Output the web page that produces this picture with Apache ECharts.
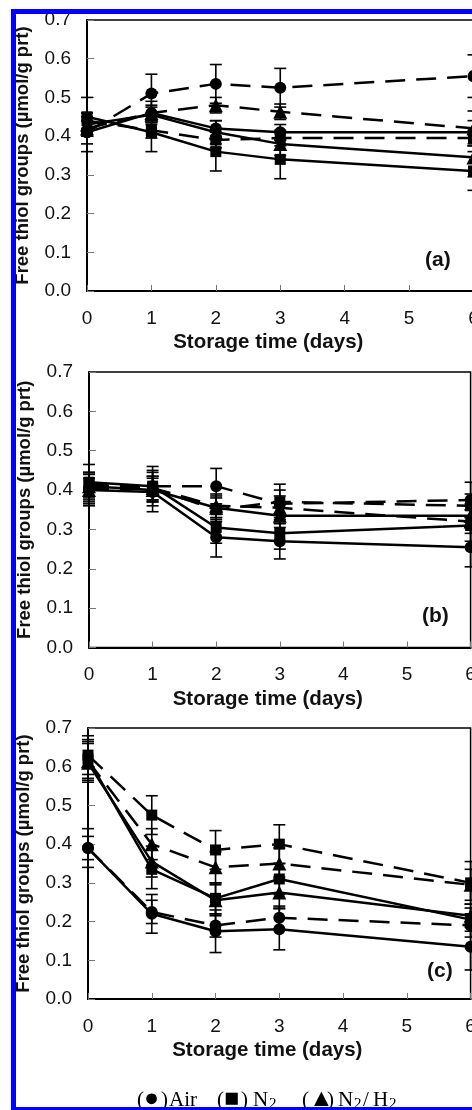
<!DOCTYPE html>
<html>
<head>
<meta charset="utf-8">
<script src="https://cdn.jsdelivr.net/npm/echarts@6/dist/echarts.min.js"></script>
<style>
  html, body { margin: 0; padding: 0; background: #fff; }
  #chart { width: 472px; height: 1110px; }
</style>
</head>
<body>
<div id="chart"></div>
<script>
// Storage days at which free thiol groups were measured
const days = [0, 1, 2, 3, 6];
const xTickLabels = ['0', '1', '2', '3', '4', '5', '6'];
const yTickLabels = ['0.0', '0.1', '0.2', '0.3', '0.4', '0.5', '0.6', '0.7'];

// Panel (a): means and error half-widths (µmol/g protein)
const a_air_solid   = [0.41, 0.46, 0.42, 0.41, 0.41];
const a_air_solid_e = [0.03, 0.03, 0.02, 0.02, 0.03];
const a_air_dash    = [0.41, 0.51, 0.535, 0.525, 0.555];
const a_air_dash_e  = [0.05, 0.05, 0.05, 0.05, 0.055];
const a_n2_solid    = [0.45, 0.41, 0.36, 0.34, 0.31];
const a_n2_solid_e  = [0.05, 0.05, 0.05, 0.05, 0.05];
const a_n2_dash     = [0.44, 0.415, 0.39, 0.395, 0.395];
const a_n2_dash_e   = [0.02, 0.02, 0.02, 0.02, 0.02];
const a_nh_solid    = [0.43, 0.455, 0.41, 0.38, 0.345];
const a_nh_solid_e  = [0.02, 0.02, 0.03, 0.03, 0.05];
const a_nh_dash     = [0.42, 0.46, 0.48, 0.463, 0.42];
const a_nh_dash_e   = [0.02, 0.02, 0.02, 0.02, 0.045];

// Panel (b)
const b_air_solid   = [0.40, 0.395, 0.28, 0.27, 0.255];
const b_air_solid_e = [0.04, 0.05, 0.05, 0.045, 0.05];
const b_air_dash    = [0.405, 0.41, 0.41, 0.365, 0.375];
const b_air_dash_e  = [0.04, 0.05, 0.045, 0.05, 0.045];
const b_n2_solid    = [0.42, 0.41, 0.305, 0.29, 0.31];
const b_n2_solid_e  = [0.045, 0.04, 0.04, 0.04, 0.04];
const b_n2_dash     = [0.415, 0.405, 0.35, 0.37, 0.36];
const b_n2_dash_e   = [0.03, 0.03, 0.03, 0.03, 0.03];
const b_nh_solid    = [0.41, 0.40, 0.355, 0.335, 0.335];
const b_nh_solid_e  = [0.03, 0.03, 0.03, 0.03, 0.03];
const b_nh_dash     = [0.40, 0.405, 0.36, 0.355, 0.32];
const b_nh_dash_e   = [0.03, 0.03, 0.03, 0.03, 0.03];

// Panel (c)
const c_air_solid   = [0.39, 0.22, 0.175, 0.18, 0.135];
const c_air_solid_e = [0.05, 0.05, 0.055, 0.053, 0.06];
const c_air_dash    = [0.39, 0.225, 0.19, 0.21, 0.19];
const c_air_dash_e  = [0.03, 0.03, 0.03, 0.03, 0.03];
const c_n2_solid    = [0.62, 0.335, 0.26, 0.31, 0.205];
const c_n2_solid_e  = [0.05, 0.05, 0.04, 0.04, 0.03];
const c_n2_dash     = [0.63, 0.475, 0.385, 0.40, 0.30];
const c_n2_dash_e   = [0.05, 0.05, 0.05, 0.05, 0.055];
const c_nh_solid    = [0.61, 0.355, 0.255, 0.275, 0.215];
const c_nh_solid_e  = [0.05, 0.04, 0.04, 0.04, 0.03];
const c_nh_dash     = [0.615, 0.40, 0.34, 0.35, 0.295];
const c_nh_dash_e   = [0.05, 0.04, 0.04, 0.04, 0.04];

const panelLabels = ['(a)', '(b)', '(c)'];
const xTitle = 'Storage time (days)';
const yTitle = 'Free thiol groups (µmol/g prt)';
const gasNames = ['Air', 'N', 'N', 'H'];
const gasSymbols = ['●', '■', '▲'];

const panels = [
  [
    { v: a_air_solid, e: a_air_solid_e, sym: 'circle', dash: false },
    { v: a_air_dash,  e: a_air_dash_e,  sym: 'circle', dash: true },
    { v: a_n2_solid,  e: a_n2_solid_e,  sym: 'rect', dash: false },
    { v: a_n2_dash,   e: a_n2_dash_e,   sym: 'rect', dash: true },
    { v: a_nh_solid,  e: a_nh_solid_e,  sym: 'triangle', dash: false },
    { v: a_nh_dash,   e: a_nh_dash_e,   sym: 'triangle', dash: true }
  ],
  [
    { v: b_air_solid, e: b_air_solid_e, sym: 'circle', dash: false },
    { v: b_air_dash,  e: b_air_dash_e,  sym: 'circle', dash: true },
    { v: b_n2_solid,  e: b_n2_solid_e,  sym: 'rect', dash: false },
    { v: b_n2_dash,   e: b_n2_dash_e,   sym: 'rect', dash: true },
    { v: b_nh_solid,  e: b_nh_solid_e,  sym: 'triangle', dash: false },
    { v: b_nh_dash,   e: b_nh_dash_e,   sym: 'triangle', dash: true }
  ],
  [
    { v: c_air_solid, e: c_air_solid_e, sym: 'circle', dash: false },
    { v: c_air_dash,  e: c_air_dash_e,  sym: 'circle', dash: true },
    { v: c_n2_solid,  e: c_n2_solid_e,  sym: 'rect', dash: false },
    { v: c_n2_dash,   e: c_n2_dash_e,   sym: 'rect', dash: true },
    { v: c_nh_solid,  e: c_nh_solid_e,  sym: 'triangle', dash: false },
    { v: c_nh_dash,   e: c_nh_dash_e,   sym: 'triangle', dash: true }
  ]
];

// Plot area placement of the three stacked panels
const grids = [
  { left: 87, top: 20,  width: 386.5, height: 271 },
  { left: 89, top: 372, width: 381.6, height: 275.5 },
  { left: 88, top: 728, width: 382.6, height: 271 }
];

const FONT = '"Liberation Sans", Arial, sans-serif';
const SERIF = '"Liberation Serif", "Times New Roman", serif';

function errorBars(params, api) {
  const x = api.value(0);
  const lo = api.coord([x, api.value(1)]);
  const hi = api.coord([x, api.value(2)]);
  const w = 6;
  const style = { stroke: '#000', lineWidth: 1.6 };
  return {
    type: 'group',
    children: [
      { type: 'line', shape: { x1: hi[0], y1: hi[1], x2: lo[0], y2: lo[1] }, style },
      { type: 'line', shape: { x1: hi[0] - w, y1: hi[1], x2: hi[0] + w, y2: hi[1] }, style },
      { type: 'line', shape: { x1: lo[0] - w, y1: lo[1], x2: lo[0] + w, y2: lo[1] }, style }
    ]
  };
}

const symbolSizes = { circle: 12, rect: 11, triangle: 14 };

const series = [];
panels.forEach((list, pi) => {
  list.forEach(s => {
    series.push({
      type: 'custom',
      xAxisIndex: pi, yAxisIndex: pi,
      renderItem: errorBars,
      encode: { x: 0, y: [1, 2] },
      data: days.map((d, k) => [d, s.v[k] - s.e[k], s.v[k] + s.e[k]]),
      z: 2, silent: true
    });
    series.push({
      type: 'line',
      xAxisIndex: pi, yAxisIndex: pi,
      data: days.map((d, k) => [d, s.v[k]]),
      symbol: s.sym,
      symbolSize: symbolSizes[s.sym],
      showSymbol: true,
      itemStyle: { color: '#000', borderWidth: 0 },
      lineStyle: { color: '#000', width: 2.5, type: s.dash ? [20, 11] : 'solid' },
      z: 3, silent: true, animation: false
    });
  });
});

// Legend row under the last panel: "(●) Air  (■) N2  (▲) N2/H2"
const LT = 1090;
function txt(t, x, y, size) {
  return { type: 'text', left: x, top: y, style: { text: t, font: size + 'px ' + SERIF, fill: '#000' } };
}
const legendGraphics = [
  txt('(', 137, LT, 21), txt(gasSymbols[0], 144, LT - 3, 25), txt(')', 161, LT, 21),
  txt(gasNames[0], 169, LT, 21),
  txt('(', 217, LT, 21), txt(gasSymbols[1], 224, LT - 3, 25), txt(')', 241, LT, 21),
  txt(gasNames[1], 253, LT, 21), txt('2', 269, LT + 7, 15),
  txt('(', 302, LT, 21), txt(gasSymbols[2], 309, LT - 3, 25), txt(')', 327, LT, 21),
  txt(gasNames[2], 338, LT, 21), txt('2', 354, LT + 7, 15), txt('/', 363, LT, 21),
  txt(gasNames[3], 373, LT, 21), txt('2', 389, LT + 7, 15)
];

const option = {
  animation: false,
  backgroundColor: '#fff',
  grid: grids.map(g => Object.assign({
    show: true, borderColor: '#000', borderWidth: 1.5,
    containLabel: false, outerBoundsMode: 'none'
  }, g)),
  xAxis: grids.map((g, i) => ({
    type: 'value', gridIndex: i, min: 0, max: 6, interval: 1,
    axisLine: { show: true, lineStyle: { color: '#000', width: 2 } },
    axisTick: { show: true, inside: true, length: 6, lineStyle: { color: '#777', width: 1 } },
    axisLabel: { fontFamily: FONT, fontSize: 19, color: '#111', margin: 18, showMaxLabel: true,
                 formatter: v => xTickLabels[Math.round(v)] },
    splitLine: { show: false },
    name: xTitle, nameLocation: 'middle', nameGap: 41,
    nameTextStyle: { fontFamily: FONT, fontSize: 20.5, fontWeight: 'bold', color: '#111', padding: [0, 24, 0, 0] }
  })),
  yAxis: grids.map((g, i) => ({
    type: 'value', gridIndex: i, min: 0, max: 0.7, interval: 0.1,
    axisLine: { show: true, lineStyle: { color: '#000', width: 2 } },
    axisTick: { show: true, inside: true, length: 7, lineStyle: { color: '#777', width: 1 } },
    axisLabel: { fontFamily: FONT, fontSize: 19, color: '#111', margin: 16,
                 formatter: v => yTickLabels[Math.round(v * 10)] },
    splitLine: { show: false },
    name: yTitle, nameLocation: 'middle', nameGap: 55,
    nameTextStyle: { fontFamily: FONT, fontSize: 18.5, fontWeight: 'bold', color: '#111' }
  })),
  series: series,
  graphic: [
    { type: 'text', left: 425, top: 250, style: { text: panelLabels[0], font: 'bold 21px ' + FONT, fill: '#111' } },
    { type: 'text', left: 422, top: 606, style: { text: panelLabels[1], font: 'bold 21px ' + FONT, fill: '#111' } },
    { type: 'text', left: 427, top: 961, style: { text: panelLabels[2], font: 'bold 21px ' + FONT, fill: '#111' } }
  ].concat(legendGraphics, [
    // blue frame
    { type: 'rect', shape: { x: 11, y: 9, width: 5, height: 1101 }, style: { fill: '#0000ff' }, z: 100 },
    { type: 'rect', shape: { x: 11, y: 9, width: 461, height: 5 }, style: { fill: '#0000ff' }, z: 100 },
    { type: 'rect', shape: { x: 11, y: 1107, width: 461, height: 3 }, style: { fill: '#0000ff' }, z: 100 }
  ])
};

const chart = echarts.init(document.getElementById('chart'), null, { renderer: 'canvas' });
chart.setOption(option);
</script>
</body>
</html>
